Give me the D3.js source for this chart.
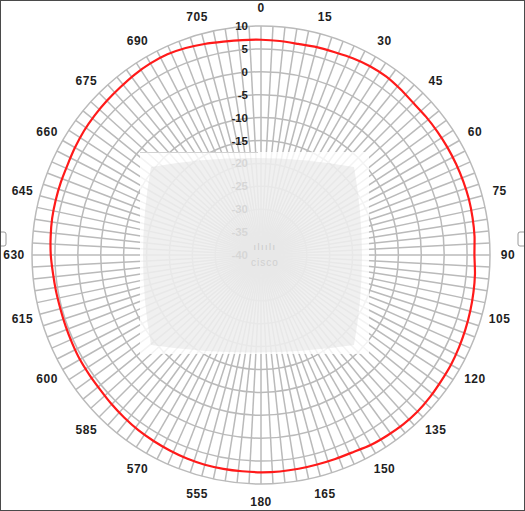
<!DOCTYPE html>
<html>
<head>
<meta charset="utf-8">
<script src="https://cdn.jsdelivr.net/npm/d3@7"></script>
<style>
  body { margin: 0; background: #fff; }
  svg { display: block; font-family: "Liberation Sans", Arial, sans-serif; }
  .angleText { font-size: 12px; font-weight: bold; fill: #1e1e1e; letter-spacing: 0.5px; }
  .dbText { font-size: 11.5px; font-weight: bold; fill: #1e1e1e; }
</style>
</head>
<body>
<div id="polar"></div>
<script>
//gain readings (dBi), one every 5 degrees, clockwise from 0 at the top
var angles = [0, 5, 10, 15, 20, 25, 30, 35, 40, 45, 50, 55,
    60, 65, 70, 75, 80, 85, 90, 95, 100, 105, 110, 115,
    120, 125, 130, 135, 140, 145, 150, 155, 160, 165, 170, 175,
    180, 185, 190, 195, 200, 205, 210, 215, 220, 225, 230, 235,
    240, 245, 250, 255, 260, 265, 270, 275, 280, 285, 290, 295,
    300, 305, 310, 315, 320, 325, 330, 335, 340, 345, 350, 355];

var gain = [7.0, 6.9, 6.8, 7.0, 7.1, 7.4, 7.6, 7.6, 7.3, 7.0, 7.0, 7.0,
    7.0, 7.0, 7.0, 7.0, 6.9, 6.8, 6.6, 6.9, 7.1, 7.3, 7.5, 7.7,
    7.9, 8.0, 8.2, 8.35, 8.3, 8.1, 7.9, 7.5, 7.4, 7.35, 7.4, 7.45,
    7.45, 7.4, 7.4, 7.4, 7.3, 7.1, 6.9, 6.7, 6.4, 6.1, 5.8, 5.7,
    5.65, 5.5, 5.4, 5.35, 5.45, 5.6, 5.9, 6.1, 6.3, 6.4, 6.5, 6.6,
    6.9, 7.2, 7.4, 7.6, 7.8, 8.1, 8.3, 8.35, 8.1, 7.7, 7.3, 7.1];

//ring labels along the 0 degree spoke
var dbTicks = [10, 5, 0, -5, -10, -15, -20, -25, -30, -35, -40];

//angle labels every 15 degrees
var angleTicks = [0, 15, 30, 45, 60, 75, 90, 105, 120, 135, 150, 165,
    180, 195, 210, 225, 240, 255, 270, 285, 300, 315, 330, 345];
var angleLabels = ["0", "15", "30", "45", "60", "75", "90", "105", "120", "135", "150", "165",
    "180", "555", "570", "585", "600", "615", "630", "645", "660", "675", "690", "705"];

//svg size
var svgWidth = 525;
var svgHeight = 511;

//plot centre and outer radius
var cx = 261;
var cy = 255;
var radius = 229;

var svg = d3.select("#polar").append("svg")
    .attr("width", svgWidth)
    .attr("height", svgHeight);

var rScale = d3.scaleLinear()
    .domain([-40, 10])
    .range([0, radius]);

var toRad = d3.scaleLinear().domain([0, 360]).range([0, 2 * Math.PI]);

var chartGroup = svg.append("g")
    .attr("transform", `translate(${cx}, ${cy})`);

//grid rings
var gridGroup = chartGroup.append("g")
    .attr("fill", "none")
    .attr("stroke", "#bababa")
    .attr("stroke-width", 1.5);

gridGroup.selectAll("circle")
    .data(dbTicks.filter(d => d > -40))
    .enter()
    .append("circle")
    .attr("r", d => rScale(d));

//spokes every 3 degrees
gridGroup.selectAll("line")
    .data(d3.range(0, 360, 3))
    .enter()
    .append("line")
    .attr("x1", 0)
    .attr("y1", 0)
    .attr("x2", d => rScale(10) * Math.sin(toRad(d)))
    .attr("y2", d => -rScale(10) * Math.cos(toRad(d)));

//dB labels
chartGroup.selectAll(".dbText")
    .data(dbTicks)
    .enter()
    .append("text")
    .classed("dbText", true)
    .attr("x", -13)
    .attr("y", d => -rScale(d))
    .attr("dy", "0.35em")
    .attr("text-anchor", "end")
    .text(d => d);

//angle labels
chartGroup.selectAll(".angleText")
    .data(angleTicks)
    .enter()
    .append("text")
    .classed("angleText", true)
    .attr("x", d => (radius + 18) * Math.sin(toRad(d)))
    .attr("y", d => -(radius + 18) * Math.cos(toRad(d)))
    .attr("dy", "0.35em")
    .attr("text-anchor", "middle")
    .text((d, i) => angleLabels[i]);

//pattern trace
var patternLine = d3.lineRadial()
    .angle(d => toRad(d[0]))
    .radius(d => rScale(d[1]))
    .curve(d3.curveCardinalClosed.tension(0.4));

chartGroup.append("path")
    .datum(angles.map((a, i) => [a, gain[i]]))
    .attr("d", patternLine)
    .attr("fill", "none")
    .attr("stroke", "#ff1a1a")
    .attr("stroke-width", 2.2);

//washed out centre panel with the logo
var overlay = svg.append("g");

overlay.append("rect")
    .attr("x", 140)
    .attr("y", 152)
    .attr("width", 229)
    .attr("height", 202)
    .attr("fill", "#fff")
    .attr("opacity", 0.82);

overlay.append("line")
    .attr("x1", 140)
    .attr("x2", 258)
    .attr("y1", 152.5)
    .attr("y2", 152.5)
    .attr("stroke", "#d2d2d2")
    .attr("stroke-width", 1.2);

overlay.append("path")
    .attr("d", "M151,167 Q252,149 354,167 Q370,256 354,345 Q252,360 151,345 Q135,256 151,167 Z")
    .attr("fill", "#d6d6d6")
    .attr("opacity", 0.36);

overlay.append("text")
    .attr("x", 265)
    .attr("y", 250)
    .attr("text-anchor", "middle")
    .attr("font-size", 9)
    .attr("fill", "#c8c8c8")
    .attr("letter-spacing", 1.5)
    .text("ılıılı");

overlay.append("text")
    .attr("x", 265)
    .attr("y", 266)
    .attr("text-anchor", "middle")
    .attr("font-size", 10)
    .attr("fill", "#d0d0d0")
    .attr("letter-spacing", 1)
    .text("cisco");

//small handles on the frame sides
svg.selectAll(".handle")
    .data([-4, 518])
    .enter()
    .append("rect")
    .classed("handle", true)
    .attr("x", d => d)
    .attr("y", 232)
    .attr("width", 10)
    .attr("height", 14)
    .attr("rx", 2)
    .attr("fill", "#fff")
    .attr("stroke", "#9a9a9a");

//outer frame
svg.append("rect")
    .attr("x", 0.5)
    .attr("y", 0.5)
    .attr("width", svgWidth - 1)
    .attr("height", svgHeight - 1)
    .attr("fill", "none")
    .attr("stroke", "#4a4a4a");
</script>
</body>
</html>
